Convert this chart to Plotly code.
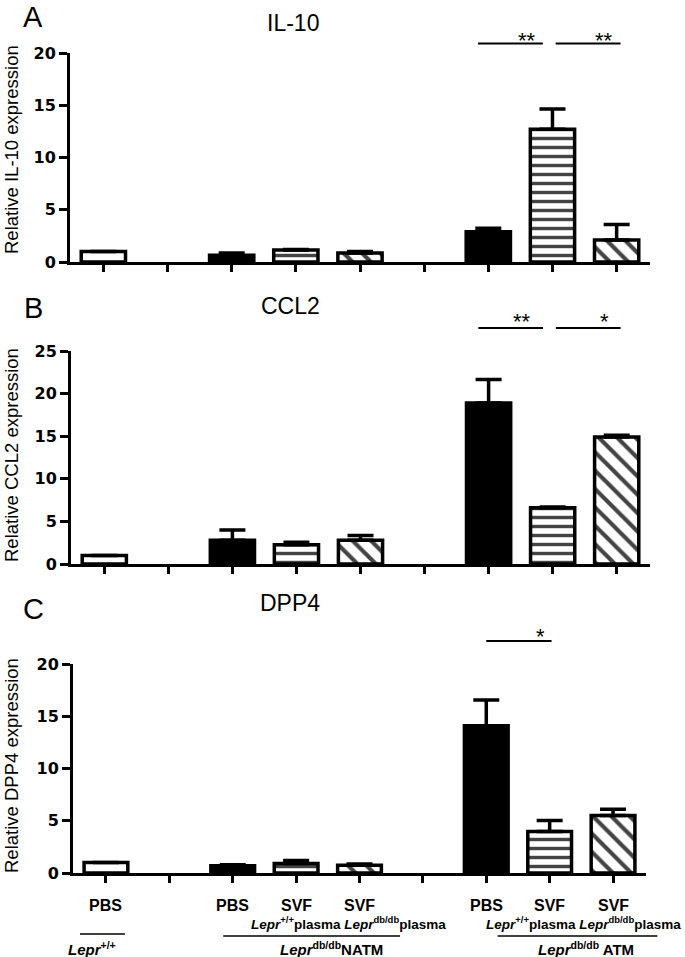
import plotly.graph_objects as go

W, H = 685, 957

# ---------------- data ----------------
bar_positions = [0, 2, 3, 4, 6, 7, 8]
tick_positions = list(range(9))
row1_labels = ["PBS", "PBS", "SVF", "SVF", "PBS", "SVF", "SVF"]

il10 = [1.0, 0.65, 1.15, 0.85, 2.9, 12.7, 2.1]
il10_err = [0, 0.2, 0.05, 0.15, 0.32, 1.95, 1.5]
ccl2 = [1.0, 2.8, 2.25, 2.8, 18.9, 6.6, 14.9]
ccl2_err = [0, 1.2, 0.3, 0.55, 2.75, 0.1, 0.2]
dpp4 = [1.0, 0.7, 0.9, 0.73, 14.1, 3.97, 5.5]
dpp4_err = [0, 0.1, 0.3, 0.13, 2.45, 1.05, 0.6]

fill_colors = ["white", "black", "white", "white", "black", "white", "white"]
pattern_shapes = ["", "", "-", "\\", "", "-", "\\"]
pattern_sizes = [9, 9, 9, 13, 9, 9, 13]
pattern_solid = [0.3, 0.3, 0.38, 0.32, 0.3, 0.38, 0.32]

XR = [-0.52, 8.52]

panels = [
    dict(name="IL-10", letter="A", y=il10, err=il10_err, ymax=20,
         xpx=(70, 650), ypx=(53, 262), title_px=(293, 23), letter_px=(33, 17),
         ytitle="Relative IL-10 expression", ytitle_y=150,
         sig=[(5.84, 6.85, 20.9, "**", 6.61, 21.7), (7.05, 8.06, 20.9, "**", 7.81, 21.7)]),
    dict(name="CCL2", letter="B", y=ccl2, err=ccl2_err, ymax=25,
         xpx=(71, 650), ypx=(351, 564), title_px=(290, 306), letter_px=(33, 308),
         ytitle="Relative CCL2 expression", ytitle_y=455,
         sig=[(5.84, 6.85, 27.7, "**", 6.52, 29.0), (7.05, 8.06, 27.7, "*", 7.81, 29.0)]),
    dict(name="DPP4", letter="C", y=dpp4, err=dpp4_err, ymax=20,
         xpx=(73, 646), ypx=(664, 873), title_px=(290, 603), letter_px=(33, 609),
         ytitle="Relative DPP4 expression", ytitle_y=766,
         sig=[(6.0, 7.03, 22.2, "*", 6.86, 23.1)]),
]

BOLD = "Liberation Sans, Arial, sans-serif"
SANS = "Liberation Sans, Arial, sans-serif"


def px2paper_x(px):
    return px / W


def px2paper_y(py):
    return 1 - py / H


def data2paper(p, xv, yv):
    x0, x1 = p["xpx"]
    ytop, ybot = p["ypx"]
    px = x0 + (xv - XR[0]) / (XR[1] - XR[0]) * (x1 - x0)
    py = ybot - yv / p["ymax"] * (ybot - ytop)
    return px2paper_x(px), px2paper_y(py)


def note(text, x, y, size, family=SANS, xref="paper", angle=0):
    return dict(text=text, x=x, y=y, xref=xref, yref="paper", showarrow=False,
                xanchor="center", yanchor="middle", textangle=angle,
                font=dict(family=family, size=size, color="black"))


fig = go.Figure()
annotations = []
shapes = []

for i, p in enumerate(panels, start=1):
    xa = "x" if i == 1 else f"x{i}"
    ya = "y" if i == 1 else f"y{i}"
    fig.add_trace(go.Bar(
        x=bar_positions, y=p["y"], width=0.69,
        xaxis=xa, yaxis=ya,
        marker=dict(color=fill_colors, line=dict(color="black", width=3.5),
                    pattern=dict(shape=pattern_shapes, fgcolor="black", fgopacity=1,
                                 fillmode="overlay",
                                 size=pattern_sizes, solidity=pattern_solid)),
        error_y=dict(type="data", symmetric=False, array=p["err"],
                     arrayminus=[0] * len(p["err"]), color="black",
                     thickness=3.5, width=13),
        showlegend=False, hoverinfo="skip",
    ))
    xd = [px2paper_x(p["xpx"][0]), px2paper_x(p["xpx"][1])]
    yd = [px2paper_y(p["ypx"][1]), px2paper_y(p["ypx"][0])]
    fig.update_layout(**{
        ("xaxis" if i == 1 else f"xaxis{i}"): dict(
            domain=xd, range=XR, anchor=ya, tickvals=tick_positions,
            ticktext=[""] * 9, ticks="outside", ticklen=7, tickwidth=3,
            tickcolor="black", showline=True, linewidth=3, linecolor="black",
            showgrid=False, zeroline=False, fixedrange=True, automargin=False),
        ("yaxis" if i == 1 else f"yaxis{i}"): dict(
            domain=yd, range=[0, p["ymax"]], anchor=xa, dtick=5,
            ticks="outside", ticklen=8, tickwidth=3, tickcolor="black",
            showline=True, linewidth=3, linecolor="black", showgrid=False,
            zeroline=False, automargin=False,
            tickfont=dict(family="DejaVu Sans", size=16, color="black", weight="bold"),
            fixedrange=True),
    })
    annotations.append(note(p["letter"], px2paper_x(p["letter_px"][0]),
                            px2paper_y(p["letter_px"][1]), 29))
    annotations.append(note(p["name"], px2paper_x(p["title_px"][0]),
                            px2paper_y(p["title_px"][1]), 23))
    annotations.append(note(p["ytitle"], px2paper_x(11), px2paper_y(p["ytitle_y"]), 18.5,
                            angle=-90))
    for (sx0, sx1, sy, stxt, stx, sty) in p["sig"]:
        ax0, ay = data2paper(p, sx0, sy)
        ax1, _ = data2paper(p, sx1, sy)
        shapes.append(dict(type="line", xref="paper", yref="paper", x0=ax0, x1=ax1,
                           y0=ay, y1=ay, line=dict(color="black", width=2)))
        tx, ty = data2paper(p, stx, sty)
        annotations.append(note(stxt, tx, ty - 5 / H, 22))

# ---------------- bottom category labels (panel C) ----------------
pc = panels[2]
for xv, lab in zip(bar_positions, row1_labels):
    annotations.append(note(f"<b>{lab}</b>", xv, px2paper_y(905), 16, BOLD, xref="x3"))

row2 = [(3.82, "<b><i>Lepr</i><sup>+/+</sup>plasma <i>Lepr</i><sup>db/db</sup>plasma</b>"),
        (7.53, "<b><i>Lepr</i><sup>+/+</sup>plasma <i>Lepr</i><sup>db/db</sup>plasma</b>")]
for xv, lab in row2:
    annotations.append(note(lab, xv, px2paper_y(923), 13.5, BOLD, xref="x3"))

row3 = [(-0.22, "<b><i>Lepr</i><sup>+/+</sup></b>"),
        (3.56, "<b><i>Lepr</i><sup>db/db</sup>NATM</b>"),
        (7.57, "<b><i>Lepr</i><sup>db/db</sup> ATM</b>")]
for xv, lab in row3:
    annotations.append(note(lab, xv, px2paper_y(948), 15, BOLD, xref="x3"))

group_lines = [(-0.41, 0.30, 934), (1.85, 4.64, 936), (6.18, 8.70, 936)]
for gx0, gx1, gy in group_lines:
    a0, _ = data2paper(pc, gx0, 0)
    a1, _ = data2paper(pc, gx1, 0)
    shapes.append(dict(type="line", xref="paper", yref="paper", x0=a0, x1=a1,
                       y0=px2paper_y(gy), y1=px2paper_y(gy), line=dict(color="black", width=1.5)))

fig.update_layout(template="none", width=W, height=H,
                  margin=dict(l=0, r=0, t=0, b=0, pad=0, autoexpand=False),
                  paper_bgcolor="white", plot_bgcolor="white",
                  annotations=annotations, shapes=shapes, bargap=0)

fig.write_html("out.html", config={"displayModeBar": False, "staticPlot": True},
               post_script="document.body.style.margin='0';document.body.style.padding='0';")
